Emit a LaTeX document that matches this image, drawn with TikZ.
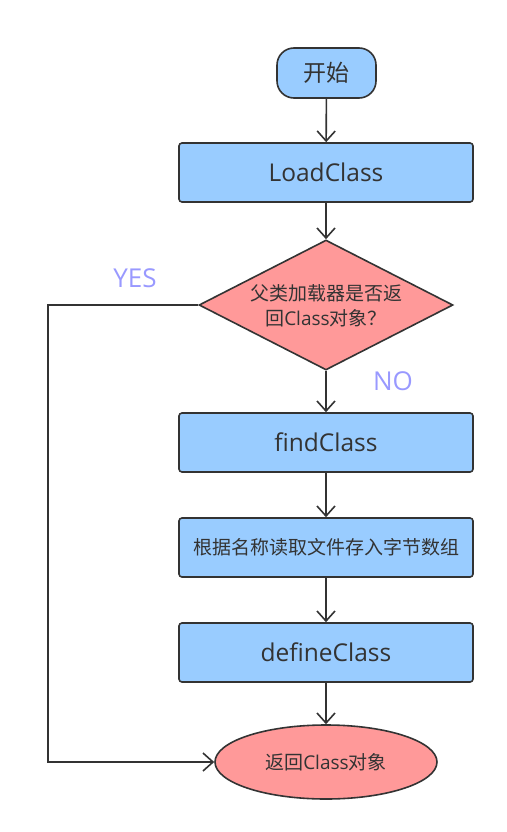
\documentclass[tikz,border=0pt]{standalone}
\usepackage{fontspec}
\setmainfont{Open Sans}
\newfontfamily\cjk{Noto Sans CJK SC}
\usetikzlibrary{shapes.geometric,arrows.meta}
\definecolor{bluefill}{HTML}{99CCFF}
\definecolor{pinkfill}{HTML}{FF9999}
\definecolor{edge}{HTML}{333333}
\definecolor{lbl}{HTML}{9999FF}
\begin{document}
\begin{tikzpicture}[x=1pt,y=-1pt,
  base/.style={draw=edge, line width=1.6pt, inner sep=0pt, text=edge},
  proc/.style={base, fill=bluefill, rounded corners=3pt, minimum width=294pt, minimum height=59pt},
  startbox/.style={base, fill=bluefill, rounded corners=17pt, minimum width=99pt, minimum height=50pt},
  decision/.style={base, fill=pinkfill, diamond, minimum width=254pt, minimum height=130pt},
  endbox/.style={base, fill=pinkfill, ellipse, minimum width=222pt, minimum height=74pt},
  big/.style={font=\fontsize{24.5pt}{29pt}\selectfont},
  cn/.style={font=\fontsize{19pt}{25pt}\selectfont},
  yn/.style={text=lbl, font=\fontsize{26pt}{30pt}\selectfont, inner sep=0pt},
  arr/.style={draw=edge, line width=1.6pt, -{Straight Barb[length=10pt,width=18pt,line width=1.6pt]}}
]
\useasboundingbox (0,0) rectangle (506,832);
\node[startbox, font=\fontsize{23pt}{27pt}\selectfont\cjk] (start) at (326.5,73) {开始};
\node[proc, big] (load) at (326,172.5) {LoadClass};
\node[decision] (dia) at (326,305) {};
\node[cn, align=center, text=edge, inner sep=0pt] (diatext) at (326,306) {{\cjk 父类加载器是否返}\\{\cjk 回}Class{\cjk 对象？}};
\node[proc, big] (find) at (326,442.5) {findClass};
\node[proc, cn] (read) at (326,547.5) {\cjk 根据名称读取文件存入字节数组};
\node[proc, big] (def) at (326,652.5) {defineClass};
\node[endbox, cn] (ret) at (326,762) {{\cjk 返回}Class{\cjk 对象}};
\coordinate (yesx) at (48,305);
\node[yn] (yes) at (135,278) {YES};
\node[yn] (no) at (393,381) {NO};
\draw[arr] (start) -- (load);
\draw[arr] (load) -- (dia);
\draw[arr] (dia) -- (find);
\draw[arr] (find) -- (read);
\draw[arr] (read) -- (def);
\draw[arr] (def) -- (ret);
\draw[arr] (dia.west) -- (yesx) |- (ret.west);
\end{tikzpicture}
\end{document}
